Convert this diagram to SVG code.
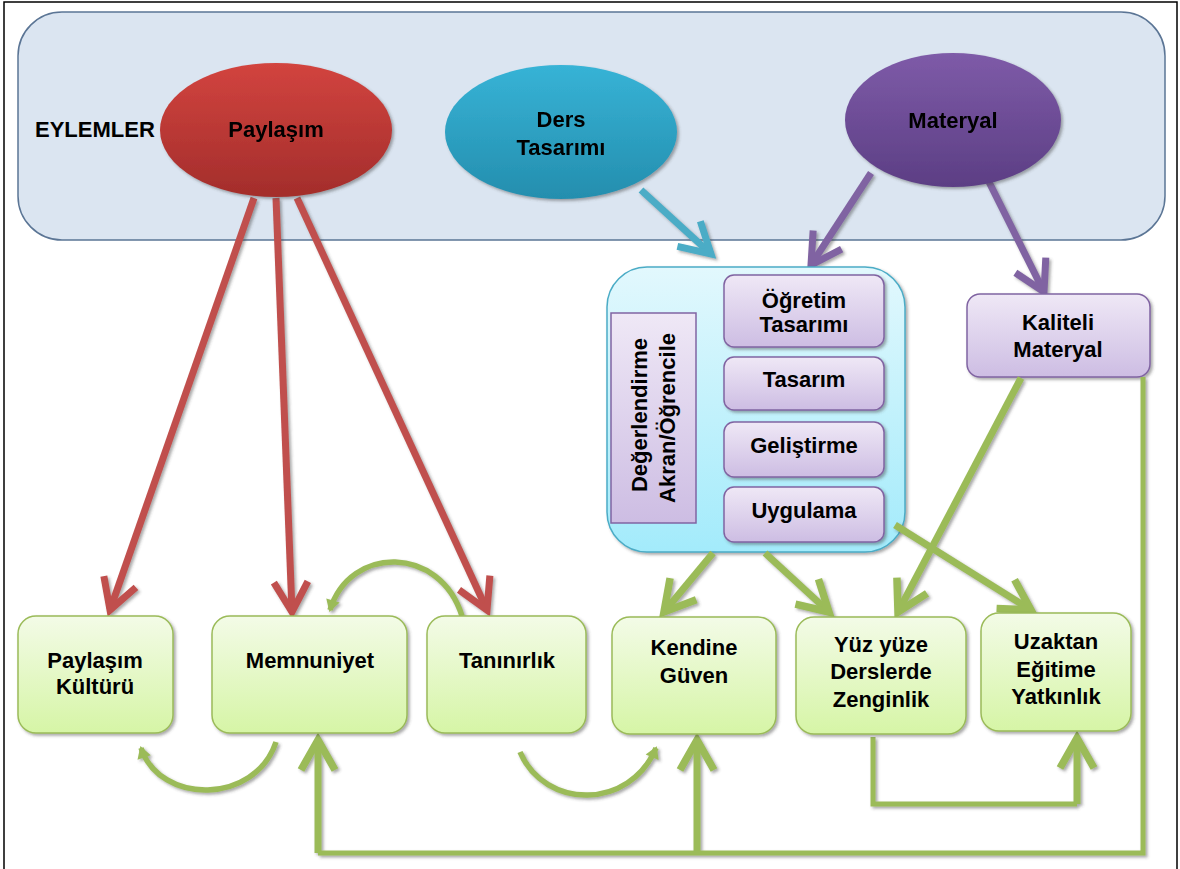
<svg xmlns="http://www.w3.org/2000/svg" width="1180" height="869" viewBox="0 0 1180 869">
<style>
.t{font-family:"Liberation Sans",Arial,sans-serif;font-weight:bold;font-size:22px;fill:#000;text-anchor:middle}
.tl{text-anchor:start}
.gbox{fill:url(#gG);stroke:#9bbb59;stroke-width:1.5}
.pbox{fill:url(#gP);stroke:#8064a2;stroke-width:1.5}
.red{fill:none;stroke:#c0504d;stroke-width:7;marker-end:url(#mR)}
.blue{fill:none;stroke:#4bacc6;stroke-width:7;marker-end:url(#mB)}
.pur{fill:none;stroke:#8064a2;stroke-width:7;marker-end:url(#mP)}
.grn{fill:none;stroke:#9bbb59;stroke-width:7;marker-end:url(#mG)}
.grn5{fill:none;stroke:#9bbb59;stroke-width:5}
.curve{fill:none;stroke:#9bbb59;stroke-width:5.5;marker-end:url(#mGs)}
</style>
<defs>
<linearGradient id="gRed" x1="0" y1="0" x2="0" y2="1"><stop offset="0" stop-color="#d2443f"/><stop offset="1" stop-color="#a32d2b"/></linearGradient>
<linearGradient id="gBlue" x1="0" y1="0" x2="0" y2="1"><stop offset="0" stop-color="#37b3d6"/><stop offset="1" stop-color="#248eae"/></linearGradient>
<linearGradient id="gPur" x1="0" y1="0" x2="0" y2="1"><stop offset="0" stop-color="#7e5ba8"/><stop offset="1" stop-color="#5c3e84"/></linearGradient>
<linearGradient id="gG" x1="0" y1="0" x2="0" y2="1"><stop offset="0" stop-color="#f3fbe7"/><stop offset="1" stop-color="#d6f5a6"/></linearGradient>
<linearGradient id="gP" x1="0" y1="0" x2="0" y2="1"><stop offset="0" stop-color="#efe8f6"/><stop offset="1" stop-color="#cdbde3"/></linearGradient>
<linearGradient id="gC" x1="0" y1="0" x2="0" y2="1"><stop offset="0" stop-color="#e2f8fd"/><stop offset="1" stop-color="#a3ebfb"/></linearGradient>
<filter id="sh" x="-20%" y="-20%" width="140%" height="140%"><feDropShadow dx="2" dy="2" stdDeviation="1.5" flood-color="#404040" flood-opacity="0.45"/></filter>
<marker id="mR" markerUnits="userSpaceOnUse" viewBox="-40 -25 50 50" markerWidth="50" markerHeight="50" refX="0" refY="0" orient="auto" overflow="visible"><path d="M-30,-17 L0,0 L-30,17" fill="none" stroke="#c0504d" stroke-width="7"/></marker>
<marker id="mB" markerUnits="userSpaceOnUse" viewBox="-40 -25 50 50" markerWidth="50" markerHeight="50" refX="0" refY="0" orient="auto" overflow="visible"><path d="M-30,-17 L0,0 L-30,17" fill="none" stroke="#4bacc6" stroke-width="7"/></marker>
<marker id="mP" markerUnits="userSpaceOnUse" viewBox="-40 -25 50 50" markerWidth="50" markerHeight="50" refX="0" refY="0" orient="auto" overflow="visible"><path d="M-30,-17 L0,0 L-30,17" fill="none" stroke="#8064a2" stroke-width="7"/></marker>
<marker id="mG" markerUnits="userSpaceOnUse" viewBox="-40 -25 50 50" markerWidth="50" markerHeight="50" refX="0" refY="0" orient="auto" overflow="visible"><path d="M-30,-17 L0,0 L-30,17" fill="none" stroke="#9bbb59" stroke-width="7.5"/></marker>
<marker id="mGs" markerUnits="userSpaceOnUse" viewBox="-20 -15 25 30" markerWidth="25" markerHeight="30" refX="0" refY="0" orient="auto" overflow="visible"><path d="M-10,-7 L2,0 L-10,7 Z" fill="#9bbb59"/></marker>
</defs>
<rect width="1180" height="869" fill="#fff"/>
<path d="M4,869 V2 H1177 V869" fill="none" stroke="#000" stroke-width="1.5"/>
<g id="eylemler">
<rect x="18" y="12" width="1147" height="228" rx="44" fill="#dbe5f1" stroke="#5b7595" stroke-width="1.5"/>
<text class="t tl" x="35" y="137">EYLEMLER</text>
</g>
<g id="connectors">
<g filter="url(#sh)">
<path class="red" d="M254,198 L110,610"/>
<path class="red" d="M276,198 L292,612"/>
<path class="red" d="M297,198 L487,610"/>
<path class="blue" d="M641,190 L711,254"/>
<path class="pur" d="M871,173 L811,265"/>
<path class="pur" d="M989,182 L1044,292"/>
</g>
</g>
<g id="paylasim" filter="url(#sh)">
<ellipse cx="276" cy="130" rx="116" ry="67" fill="url(#gRed)"/>
<text class="t" x="276" y="137">Paylaşım</text>
</g>
<g id="ders" filter="url(#sh)">
<ellipse cx="561" cy="132" rx="116" ry="67" fill="url(#gBlue)"/>
<text class="t" x="561" y="127">Ders</text>
<text class="t" x="561" y="155">Tasarımı</text>
</g>
<g id="materyal" filter="url(#sh)">
<ellipse cx="953" cy="120" rx="108" ry="67" fill="url(#gPur)"/>
<text class="t" x="953" y="128">Materyal</text>
</g>
<g id="surec">
<rect x="607" y="267" width="298" height="285" rx="40" fill="url(#gC)" stroke="#4bacc6" stroke-width="1.5" filter="url(#sh)"/>
</g>
<g id="degerlendirme">
<rect x="611" y="313" width="85" height="210" fill="url(#gP)" stroke="#8064a2" stroke-width="1.5"/>
<text class="t" transform="translate(647,415) rotate(-90)">Değerlendirme</text>
<text class="t" transform="translate(675,418) rotate(-90)">Akran/Öğrencile</text>
</g>
<g id="ogretim-tasarimi"><rect class="pbox" x="724" y="275" width="160" height="72" rx="10" filter="url(#sh)"/><text class="t" x="804" y="308">Öğretim</text><text class="t" x="804" y="332">Tasarımı</text></g>
<g id="tasarim"><rect class="pbox" x="724" y="357" width="160" height="53" rx="10" filter="url(#sh)"/><text class="t" x="804" y="387">Tasarım</text></g>
<g id="gelistirme"><rect class="pbox" x="724" y="422" width="160" height="55" rx="10" filter="url(#sh)"/><text class="t" x="804" y="453">Geliştirme</text></g>
<g id="uygulama"><rect class="pbox" x="724" y="487" width="160" height="55" rx="10" filter="url(#sh)"/><text class="t" x="804" y="518">Uygulama</text></g>
<g id="kaliteli-materyal"><rect class="pbox" x="967" y="294" width="183" height="83" rx="13" filter="url(#sh)"/><text class="t" x="1058" y="330">Kaliteli</text><text class="t" x="1058" y="357">Materyal</text></g>
<g id="green-connectors" filter="url(#sh)">
<path class="grn" d="M713,553 L664,612"/>
<path class="grn" d="M765,553 L829,612"/>
<path class="grn" d="M895,525 L1031,610"/>
<path class="grn" d="M1021,378 L898,612"/>
<path class="grn5" d="M1143,377 V853 H318"/>
<path class="grn" stroke-width="5" d="M318,853 V740"/>
<path class="grn" stroke-width="5" d="M697,853 V740"/>
<path class="grn5" d="M873,737 V804 H1077"/>
<path class="grn" stroke-width="5" d="M1077,804 V738"/>
<path class="curve" d="M462,616 C440,545 350,545 330,610"/>
<path class="curve" d="M276,742 C255,805 160,805 141,748"/>
<path class="curve" d="M520,752 C545,810 630,810 656,748"/>
</g>
<g id="paylasim-kulturu"><rect class="gbox" x="18" y="616" width="155" height="117" rx="18" filter="url(#sh)"/><text class="t" x="95" y="668">Paylaşım</text><text class="t" x="95" y="694">Kültürü</text></g>
<g id="memnuniyet"><rect class="gbox" x="212" y="616" width="195" height="117" rx="18" filter="url(#sh)"/><text class="t" x="310" y="668">Memnuniyet</text></g>
<g id="taninirlik"><rect class="gbox" x="427" y="616" width="159" height="117" rx="18" filter="url(#sh)"/><text class="t" x="507" y="668">Tanınırlık</text></g>
<g id="kendine-guven"><rect class="gbox" x="612" y="617" width="164" height="117" rx="18" filter="url(#sh)"/><text class="t" x="694" y="655">Kendine</text><text class="t" x="694" y="683">Güven</text></g>
<g id="yuz-yuze"><rect class="gbox" x="796" y="617" width="170" height="117" rx="18" filter="url(#sh)"/><text class="t" x="881" y="652">Yüz yüze</text><text class="t" x="881" y="679">Derslerde</text><text class="t" x="881" y="707">Zenginlik</text></g>
<g id="uzaktan"><rect class="gbox" x="981" y="613" width="150" height="118" rx="18" filter="url(#sh)"/><text class="t" x="1056" y="649">Uzaktan</text><text class="t" x="1056" y="677">Eğitime</text><text class="t" x="1056" y="704">Yatkınlık</text></g>
</svg>
